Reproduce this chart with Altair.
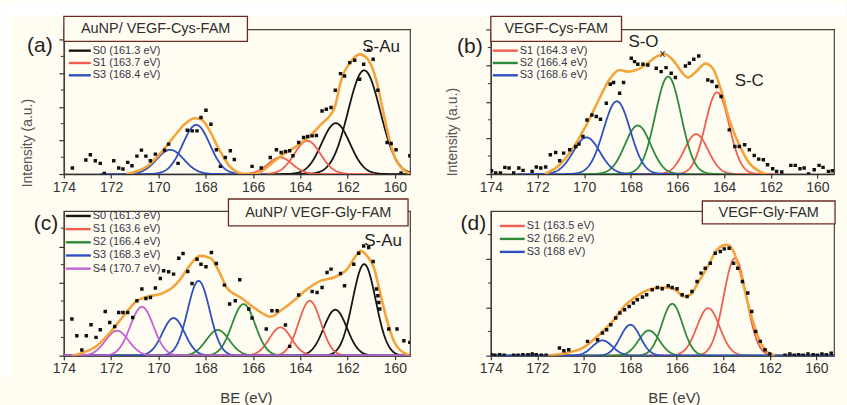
import altair as alt
import numpy as np
import pandas as pd

FONT = "Liberation Sans"
PAPER = "#fffcf2"
FRAME = "#4f3d38"
BOX_EDGE = "#6e2a22"
INK = "#2e2e2e"
LEGEND_INK = "#363645"
ENVELOPE = "#f3a53c"
COMPONENT_COLORS = {
    "S0": "#161616",
    "S1": "#ef5f4f",
    "S2": "#2e8a3a",
    "S3": "#2f4fc0",
    "S4": "#c562d2",
}
PLOT_H = 145
X_TICKS = [174, 172, 170, 168, 166, 164, 162, 160]

# ---------------- (a) AuNP/ VEGF-Cys-FAM ----------------
a_dot_be = [173.64, 173.07, 172.88, 172.67, 172.46, 172.29, 171.89, 171.68, 171.50, 171.30,
            171.12, 170.91, 170.72, 170.53, 170.34, 170.13, 169.74, 169.57, 169.17, 168.78,
            168.57, 168.37, 168.20, 167.99, 167.78, 167.55, 167.38, 167.17, 166.96, 166.79,
            166.04, 165.65, 165.27, 165.01, 164.81, 164.63, 164.45, 164.31, 164.07, 163.86,
            163.69, 163.50, 163.32, 163.08, 162.90, 162.70, 162.52, 162.30, 162.13, 161.91,
            161.70, 161.49, 161.32, 161.11, 160.92, 160.72, 160.33, 160.16, 159.95, 159.74,
            159.37, 159.13]
a_dot_int = [6, 14, 19.3, 13.3, 10.7, 0.7, 13.3, 6, 5, 11.7,
             8.3, 18, 24, 18, 13.3, 20, 24, 30, 10.7, 44,
             43.3, 43.3, 56.7, 64, 50, 24.3, 7.7, 16.7, 23.3, 14.7,
             7.7, 6, 16.7, 24.3, 21.7, 22.7, 23.3, 18.3, 31.7, 36.7,
             37.7, 38.3, 38.7, 63.3, 65, 66.7, 84, 100.7, 98.3, 111.7,
             114, 95, 110, 124, 115, 84, 31.7, 30.7, 24.3, 1,
             18.3, 24.3]
a_env_be = [171.36, 170.44, 169.88, 169.32, 168.89, 168.47, 168.19, 167.91, 167.48, 167.06,
            166.64, 166.21, 165.86, 165.51, 165.08, 164.66, 164.24, 163.67, 163.11, 162.55,
            162.26, 161.84, 161.49, 161.14, 160.78, 160.50, 160.22, 159.94, 159.58, 159.30]
a_env_int = [0, 8.3, 21.7, 38.3, 50, 56, 55, 46.7, 26.7, 10,
             1.7, 0, 0, 5, 13.3, 20.7, 26.7, 36.7, 50, 66.7,
             95, 113.3, 120, 115, 93.3, 63.3, 33.3, 13.3, 3.3, 0]
a_peak_comp = ["S0", "S0", "S1", "S1", "S3", "S3"]
a_peak_be = [161.3, 162.5, 163.7, 164.85, 168.4, 169.5]
a_peak_height = [104, 51, 33.3, 16.7, 49.3, 24.3]
a_peak_fwhm = [1.6, 1.4, 1.3, 1.2, 1.35, 1.35]
a_legend_comp = ["S0", "S1", "S3"]
a_legend_be = [161.3, 163.7, 168.4]

# ---------------- (b) VEGF-Cys-FAM ----------------
b_dot_be = [173.97, 173.79, 173.59, 173.40, 173.22, 173.02, 172.80, 172.62, 172.23, 172.05,
            171.86, 171.65, 171.45, 171.22, 171.05, 170.88, 170.62, 170.36, 170.22, 170.05,
            169.88, 169.67, 169.48, 169.30, 169.05, 168.88, 168.74, 168.48, 168.31, 167.98,
            167.84, 167.70, 167.48, 167.27, 166.91, 166.70, 166.49, 166.27, 166.09, 165.66,
            165.49, 165.30, 165.09, 164.70, 164.52, 164.32, 164.13, 163.78, 163.54, 163.35,
            163.12, 162.92, 162.71, 162.52, 162.32, 162.14, 161.92, 161.75, 161.53, 161.14,
            160.95, 160.75, 160.57, 160.38, 160.14, 159.93, 159.76, 159.53, 159.36]
b_dot_int = [3.3, 1, 1, 6.7, 6, 1, 6, 3.7, 2.7, 7,
             6, 7, 19.3, 21.7, 13.3, 21, 24.3, 27.7, 30, 37.7,
             54.3, 59.3, 57.7, 55, 71, 90, 91.7, 81, 91.7, 116,
             112.7, 110, 110, 109.3, 106, 102.7, 106.7, 101, 96.7, 108.3,
             111, 115, 118.3, 94.3, 92.7, 87.7, 77.7, 44.3, 27.7, 27.7,
             29.3, 24.3, 18.7, 15, 14.3, 9.3, 5.3, 2.7, 2, 8.7,
             8.7, 5.3, 6, 0, 4.3, 8.7, 6.7, 2.7, 3.3]
b_env_be = [171.69, 171.05, 170.48, 169.91, 169.34, 168.91, 168.48, 168.13, 167.77, 167.34,
            166.91, 166.56, 166.20, 165.77, 165.56, 165.20, 164.80, 164.49, 164.13, 163.78,
            163.35, 162.92, 162.49, 162.20]
b_env_int = [0, 9.3, 26, 49, 76, 95, 104.3, 102.7, 104.3, 110,
             117.7, 120.3, 114.3, 101, 96.7, 102.7, 110.7, 106, 84.3, 54.3,
             29.3, 11, 2.7, 0]
b_peak_comp = ["S1", "S1", "S2", "S2", "S3", "S3"]
b_peak_be = [164.3, 165.2, 166.4, 167.7, 168.6, 169.9]
b_peak_height = [82, 40, 97.7, 48.7, 73, 36.7]
b_peak_fwhm = [1.2, 1.2, 1.3, 1.3, 1.35, 1.35]
b_legend_comp = ["S1", "S2", "S3"]
b_legend_be = [164.3, 166.4, 168.6]

# ---------------- (c) AuNP/ VEGF-Gly-FAM ----------------
c_dot_be = [173.66, 173.45, 173.24, 173.05, 172.85, 172.64, 172.46, 172.25, 172.06, 171.85,
            171.68, 171.50, 171.30, 171.09, 170.91, 170.70, 170.53, 170.34, 170.13, 169.92,
            169.78, 169.57, 169.36, 169.14, 168.96, 168.76, 168.58, 168.37, 168.20, 167.99,
            167.76, 167.55, 167.21, 166.99, 166.75, 166.56, 166.18, 166.04, 165.44, 165.20,
            164.98, 164.63, 164.45, 164.07, 163.50, 163.29, 163.08, 162.87, 162.70, 162.30,
            162.13, 161.74, 161.53, 161.32, 161.11, 160.92, 160.78, 160.72, 160.68, 160.64,
            160.26, 159.91, 159.62, 159.37, 159.13]
c_dot_int = [36.7, 20, 5.7, 20, 31, 18.3, 26, 44.3, 33.3, 29.3,
             43.3, 43.3, 43.3, 38.3, 55, 66.7, 57.3, 58.3, 67.7, 77.3,
             85, 84, 81.7, 97.7, 102.3, 84.3, 72.3, 96.7, 91.7, 89,
             103.3, 92.3, 70.7, 51.7, 55, 76, 46.7, 37.7, 26.7, 45,
             45, 30.7, 9.3, 60.7, 64.3, 63.3, 68.3, 83.3, 86.7, 82.3,
             70, 91.7, 102.7, 110, 108.3, 94.3, 66.7, 60, 53.3, 46.7,
             26.7, 26.7, 15, 13.3, 22.3]
c_env_be = [173.66, 173.16, 172.60, 172.04, 171.47, 170.91, 170.48, 169.92, 169.43, 169.07,
            168.72, 168.23, 167.80, 167.45, 167.10, 166.53, 165.97, 165.55, 165.27, 164.84,
            164.28, 163.71, 163.15, 162.59, 162.02, 161.60, 161.46, 161.18, 160.89, 160.61,
            160.33, 160.05, 159.76, 159.41]
c_env_int = [0, 3.3, 10, 23.3, 40, 55, 59, 61.7, 67.7, 76.7,
             89, 100, 97.7, 85, 67.7, 58.3, 48.3, 41.7, 39, 45,
             55, 66.7, 75, 78.3, 86.7, 101.7, 105, 100, 88.3, 61.7,
             35, 15, 5, 1]
c_peak_comp = ["S0", "S0", "S1", "S1", "S2", "S2", "S3", "S3", "S4", "S4"]
c_peak_be = [161.3, 162.52, 163.6, 164.84, 166.4, 167.49, 168.3, 169.36, 170.7, 171.75]
c_peak_height = [91.7, 46, 55, 28.3, 51.7, 25.7, 75, 37.7, 49, 25]
c_peak_fwhm = [1.15, 1.15, 1.1, 1.1, 1.15, 1.15, 1.1, 1.1, 1.15, 1.15]
c_legend_comp = ["S0", "S1", "S2", "S3", "S4"]
c_legend_be = [161.3, 163.6, 166.4, 168.3, 170.7]

# ---------------- (d) VEGF-Gly-FAM ----------------
d_dot_be = [173.99, 173.83, 173.62, 173.43, 173.02, 172.83, 172.62, 172.40, 172.22, 172.05,
            171.83, 171.62, 171.05, 170.86, 170.65, 169.84, 169.41, 169.20, 169.02, 168.84,
            168.63, 168.45, 168.25, 168.05, 167.87, 167.70, 167.48, 167.30, 167.06, 166.84,
            166.63, 166.37, 166.20, 165.99, 165.77, 165.56, 165.35, 165.13, 164.96, 164.78,
            164.56, 164.35, 164.13, 163.96, 163.75, 163.56, 163.38, 163.18, 162.95, 162.78,
            162.61, 162.41, 162.21, 162.00, 161.35, 161.14, 160.95, 160.76, 160.57, 160.36,
            160.14, 159.96, 159.76, 159.57, 159.36]
d_dot_int = [1, 0.3, 1, 0.3, 0.3, 0.3, 1, 1, 1.7, 1,
             0.3, 0.3, 7.7, 5, 6, 14.3, 16, 22.7, 26, 31,
             37.7, 42.7, 46, 49.3, 52.7, 56, 58.7, 61, 66, 68.3,
             67, 70, 68.3, 67, 61, 59.3, 64.3, 74.3, 82.7, 87.7,
             92.7, 102.7, 104.3, 107, 107.7, 92.7, 87.7, 74.3, 62.7, 44.3,
             24.3, 14.3, 6, 1.7, 0.3, 1.7, 0.3, 1, 0.3, 1.7,
             1, 0.3, 1.7, 1, 2.3]
d_env_be = [171.55, 170.76, 170.05, 169.34, 168.77, 168.20, 167.63, 167.06, 166.49, 166.06,
            165.70, 165.42, 165.06, 164.63, 164.28, 163.85, 163.56, 163.21, 162.85, 162.49,
            162.14, 161.78]
d_env_int = [0, 2.7, 7.7, 21, 34.3, 51, 61, 67, 68.3, 66,
             59.3, 61, 74.3, 91, 106, 111, 104.3, 77.7, 44.3, 17.7,
             4.3, 0.3]
d_peak_comp = ["S1", "S1", "S2", "S2", "S3", "S3"]
d_peak_be = [163.5, 164.65, 166.2, 167.2, 168.0, 169.2]
d_peak_height = [97.7, 47.7, 52, 25.3, 31, 15.3]
d_peak_fwhm = [1.15, 1.15, 1.05, 1.05, 1.0, 1.0]
d_legend_comp = ["S1", "S2", "S3"]
d_legend_be = [163.5, 166.2, 168.0]


def component_curves(comp, centers, heights, fwhms, lo, hi, full_span):
    """Gaussian fit components, one row per sampled binding energy."""
    parts = []
    for k, (c, e0, h, w) in enumerate(zip(comp, centers, heights, fwhms)):
        if full_span:
            a, b = lo, hi
        else:
            a, b = max(lo, e0 - 2.2 * w), min(hi, e0 + 2.2 * w)
        be = np.linspace(a, b, 320)
        inten = h * np.exp(-4 * np.log(2) * ((be - e0) / w) ** 2)
        parts.append(pd.DataFrame({"comp": c, "peak": k, "be": be, "int": inten}))
    return pd.concat(parts, ignore_index=True)


def one_row():
    return pd.DataFrame({"k": [0]})


def text_at(txt, x, y, size, color=INK, align="center", angle=0, weight="normal"):
    kw = dict(text=txt, font=FONT, fontSize=size, color=color, align=align,
              baseline="middle", fontWeight=weight)
    if angle:
        kw["angle"] = angle
    return alt.Chart(one_row()).mark_text(**kw).encode(x=alt.value(x), y=alt.value(y))


def panel(cfg):
    lo, hi = min(cfg["domain"]), max(cfg["domain"])
    xs = alt.Scale(domain=cfg["domain"], nice=False, zero=False)
    ys = alt.Scale(domain=[0, PLOT_H], nice=False, zero=False)
    step = cfg["ystep"]
    majors = [round(i * step, 2) for i in range(0, 10) if i * step <= PLOT_H + 0.5]
    minors = [round((i + 0.5) * step, 2) for i in range(0, 10) if (i + 0.5) * step <= PLOT_H + 0.5]
    xaxis = alt.Axis(values=X_TICKS, format="d", title=None, grid=False, labelFlush=False,
                     labelOverlap=False, tickSize=4, labelPadding=2, labelFontSize=14)
    yaxis = alt.Axis(values=majors, labels=False, title=None, grid=False, tickSize=5,
                     domainColor=FRAME)
    X = alt.X("be:Q", scale=xs, axis=xaxis)
    Y = alt.Y("int:Q", scale=ys, axis=yaxis)

    layers = []
    # minor ticks on the intensity axis
    layers.append(
        alt.Chart(pd.DataFrame({"int": minors, "be": [hi] * len(minors)}))
        .mark_rule(color="#333333", strokeWidth=1)
        .encode(y=Y, x=alt.value(-3), x2=alt.value(0))
    )

    curves = component_curves(cfg["peak_comp"], cfg["peak_be"], cfg["peak_height"],
                              cfg["peak_fwhm"], lo, hi, cfg["full_span"])
    for comp in cfg["legend_comp"]:
        layers.append(
            alt.Chart(curves[curves["comp"] == comp])
            .mark_line(color=COMPONENT_COLORS[comp], strokeWidth=1.8, clip=True)
            .encode(x=X, y=Y, detail="peak:N")
        )

    env = pd.DataFrame({"be": cfg["env_be"], "int": cfg["env_int"]})
    layers.append(
        alt.Chart(env)
        .mark_line(color=ENVELOPE, strokeWidth=2.6, interpolate="monotone", clip=True)
        .encode(x=X, y=Y)
    )

    dots = pd.DataFrame({"be": cfg["dot_be"], "int": cfg["dot_int"]})
    layers.append(
        alt.Chart(dots)
        .mark_square(size=12, color="#111111", opacity=1, clip=True)
        .encode(x=X, y=Y)
    )

    # sample name box
    bx0, bx1, by0, by1 = cfg["box"]
    layers.append(
        alt.Chart(one_row())
        .mark_rect(fill=PAPER, stroke=BOX_EDGE, strokeWidth=1.3)
        .encode(x=alt.value(bx0), x2=alt.value(bx1), y=alt.value(by0), y2=alt.value(by1))
    )
    layers.append(text_at(cfg["title"], (bx0 + bx1) / 2, (by0 + by1) / 2 + 0.5, 14.5))

    # component legend
    lx0, lx1, ly0, ldy = cfg["legend_pos"]
    for i, (comp, be) in enumerate(zip(cfg["legend_comp"], cfg["legend_be"])):
        y = ly0 + i * ldy
        layers.append(
            alt.Chart(one_row())
            .mark_rule(color=COMPONENT_COLORS[comp], strokeWidth=2.4)
            .encode(x=alt.value(lx0), x2=alt.value(lx1), y=alt.value(y))
        )
        layers.append(text_at(f"{comp} ({be:g} eV)", lx1 + 2, y, 11,
                              color=LEGEND_INK, align="left"))

    lbl, lxp, lyp = cfg["label"]
    layers.append(text_at(lbl, lxp, lyp, 21, color="#1e1e1e"))

    for txt, tx, ty, size in cfg["notes"]:
        layers.append(text_at(txt, tx, ty, size, color="#1e1e1e"))

    if cfg.get("ytitle"):
        tx, ty = cfg["ytitle"]
        layers.append(text_at("Intensity (a.u.)", tx, ty, 14, color="#555555", angle=270))
    if cfg.get("xtitle"):
        tx, ty = cfg["xtitle"]
        layers.append(text_at("BE (eV)", tx, ty, 15, color="#3c3c3c"))

    if cfg.get("page_corner"):
        # white page margin along the top and left edge of the figure
        layers.insert(0, alt.Chart(one_row()).mark_rect(fill="white").encode(
            x=alt.value(-63), x2=alt.value(784), y=alt.value(-28), y2=alt.value(-13)))
        layers.insert(1, alt.Chart(one_row()).mark_rect(fill="white").encode(
            x=alt.value(-63), x2=alt.value(-53), y=alt.value(-28), y2=alt.value(349)))

    return alt.layer(*layers).properties(width=cfg["width"], height=PLOT_H)


panels = [
    dict(dot_be=a_dot_be, dot_int=a_dot_int, env_be=a_env_be, env_int=a_env_int,
         peak_comp=a_peak_comp, peak_be=a_peak_be, peak_height=a_peak_height,
         peak_fwhm=a_peak_fwhm, legend_comp=a_legend_comp, legend_be=a_legend_be,
         domain=[174, 159.36], width=347, ystep=33.7, full_span=False,
         title="AuNP/ VEGF-Cys-FAM", box=(0, 184, -13, 12),
         legend_pos=(5, 27, 21.3, 12.35), label=("(a)", -24, 17),
         notes=[("S-Au", 318, 17.5, 17)], ytitle=(-36, 114), page_corner=True),
    dict(dot_be=b_dot_be, dot_int=b_dot_int, env_be=b_env_be, env_int=b_env_int,
         peak_comp=b_peak_comp, peak_be=b_peak_be, peak_height=b_peak_height,
         peak_fwhm=b_peak_fwhm, legend_comp=b_legend_comp, legend_be=b_legend_be,
         domain=[174, 159.29], width=344, ystep=36.25, full_span=False,
         title="VEGF-Cys-FAM", box=(0, 131, -13, 12),
         legend_pos=(2, 27, 21.3, 12.35), label=("(b)", -21, 18),
         notes=[("S-O", 153, 12.5, 17), ("x", 172, 25, 11), ("S-C", 259, 52, 17)],
         ytitle=(-37.5, 103)),
    dict(dot_be=c_dot_be, dot_int=c_dot_int, env_be=c_env_be, env_int=c_env_int,
         peak_comp=c_peak_comp, peak_be=c_peak_be, peak_height=c_peak_height,
         peak_fwhm=c_peak_fwhm, legend_comp=c_legend_comp, legend_be=c_legend_be,
         domain=[174, 159.36], width=347, ystep=36.5, full_span=True,
         title="AuNP/ VEGF-Gly-FAM", box=(165, 345, -12, 15),
         legend_pos=(2, 27, 5, 13.2), label=("(c)", -18, 13),
         notes=[("S-Au", 320, 30, 17)], xtitle=(183, 187)),
    dict(dot_be=d_dot_be, dot_int=d_dot_int, env_be=d_env_be, env_int=d_env_int,
         peak_comp=d_peak_comp, peak_be=d_peak_be, peak_height=d_peak_height,
         peak_fwhm=d_peak_fwhm, legend_comp=d_legend_comp, legend_be=d_legend_be,
         domain=[174, 159.24], width=344, ystep=48.5, full_span=True,
         title="VEGF-Gly-FAM", box=(212, 345, -10, 13),
         legend_pos=(9, 34, 15, 13), label=("(d)", -17.5, 13.5),
         notes=[], xtitle=(184, 187)),
]

chart = (
    alt.concat(*[panel(p) for p in panels], columns=2,
               spacing={"row": 37, "column": 81}, bounds="flush")
    .properties(padding=0, background=PAPER)
    .configure_view(stroke=FRAME, strokeWidth=1.2, fill=PAPER)
    .configure_axis(domainColor="#333333", domainWidth=1.4, tickColor="#333333",
                    tickWidth=1.2, labelFont=FONT, labelColor="#333333", grid=False)
)

chart.save("out.html", embed_options={"renderer": "svg", "actions": False})
